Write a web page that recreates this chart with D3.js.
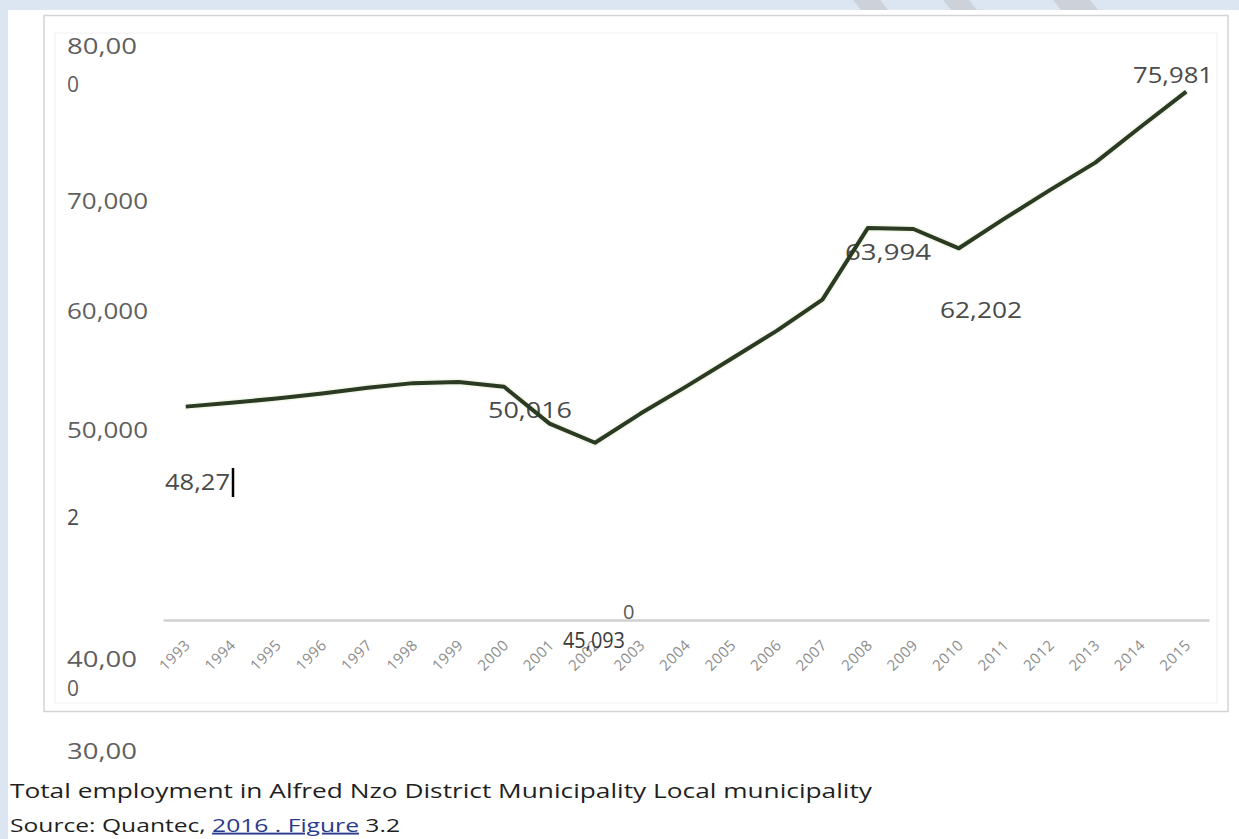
<!DOCTYPE html>
<html><head><meta charset="utf-8">
<script src="https://cdn.jsdelivr.net/npm/d3@7/dist/d3.min.js"></script>
<style>html,body{margin:0;padding:0;background:#dce6f2;}svg{display:block;}</style>
</head><body>
<svg id="chart" width="1239" height="839"></svg>
<script>
// ---------- data ----------
const years = [1993,1994,1995,1996,1997,1998,1999,2000,2001,2002,2003,2004,2005,2006,2007,2008,2009,2010,2011,2012,2013,2014,2015];
const employment = [48272,48620,48980,49420,49940,50340,50430,50016,46780,45093,47660,50030,52490,54960,57690,63994,63900,62202,64810,67320,69740,72900,75981];
const yTickValues = [80000,70000,60000,50000,40000,30000];
const labelledYears = [1993,2000,2002,2008,2010,2015];
const titleText = "Total employment in Alfred Nzo District Municipality Local municipality";
const sourcePlain = "Source: Quantec, ";
const sourceLink = "2016 . Figure";
const sourceTail = " 3.2";

// ---------- setup ----------
const svg = d3.select("#chart");
const W = 1239, H = 839;
const FONT = "'Open Sans', 'Segoe UI', sans-serif";
const fmt = d3.format(",");

// page background
svg.append("rect").attr("x",0).attr("y",0).attr("width",W).attr("height",H).attr("fill","#dce6f2");
// faint watermark stripes in the top band
const stripes = [[853,880],[943,969],[1053,1090]];
stripes.forEach(([a,b])=>{
  svg.append("polygon").attr("points",`${a},0 ${b},0 ${b+8},10 ${a+8},10`).attr("fill","#cdd2da");
});
svg.append("rect").attr("x",8).attr("y",10).attr("width",W-8).attr("height",H-10).attr("fill","#ffffff");

// chart frames
svg.append("rect").attr("x",44).attr("y",15.5).attr("width",1184).attr("height",696)
  .attr("fill","#ffffff").attr("stroke","#d4d4d4").attr("stroke-width",1.5);
svg.append("rect").attr("x",55).attr("y",33).attr("width",1162).attr("height",670)
  .attr("fill","none").attr("stroke","#f1f1f1").attr("stroke-width",1);

// scales
const x = d3.scalePoint().domain(years).range([163,1209]).padding(0.5);
const y = d3.scaleLinear().domain([29500,80000]).range([620,46]);

// category axis
const xAxis = d3.axisBottom(x).tickSize(0).tickFormat(d=>String(d));
const gx = svg.append("g").attr("transform",`translate(0,${y(29500)})`).call(xAxis);
gx.select(".domain").attr("stroke","#d0d0d0").attr("stroke-width",2.5);
gx.selectAll("text")
  .attr("font-family",FONT).attr("font-size",15).attr("fill","#8c8c8c")
  .attr("letter-spacing",0.5)
  .attr("text-anchor","end").attr("y",0).attr("dy",0)
  .attr("transform","translate(5,26) rotate(-45)");

// helper for stretched text
function txt(str, tx, cy, opts={}){
  const t = svg.append("text").attr("x",tx).attr("y",cy).attr("dy","0.35em")
    .attr("font-family",FONT).attr("font-size",opts.size||21)
    .attr("fill",opts.fill||"#5f5f5f").text(str);
  if(opts.len){ t.attr("textLength",opts.len).attr("lengthAdjust","spacingAndGlyphs"); }
  return t;
}

// value-axis tick labels (wrapped / displaced as in the scan)
const tickLayout = [
  {lines:[[67,47,70],[67,85]]},
  {lines:[[67,202,81]]},
  {lines:[[67,312,81]]},
  {lines:[[67,431,81]]},
  {lines:[[67,660,70],[67,689]]},
  {lines:[[67,752,70]]}
];
yTickValues.forEach((v,i)=>{
  const s = fmt(v);
  const L = tickLayout[i].lines;
  const parts = L.length===2 ? [s.slice(0,5), s.slice(5)] : (L[0][2]===70 ? [s.slice(0,5)] : [s]);
  parts.forEach((p,j)=>txt(p, L[j][0], L[j][1], {len:L[j][2]}));
});

// the line (soft halo)
const line = d3.line().x((d,i)=>x(years[i])).y(d=>y(d));
svg.append("path").datum(employment).attr("d",line)
  .attr("fill","none").attr("stroke","#e9f2dc").attr("stroke-width",7).attr("stroke-linejoin","round").attr("opacity",0.6);

// data labels (drawn before line so the line crosses them)
const dlLayout = {
  1993:{lines:[[165,483,65],[67,518]]},
  2000:{lines:[[488,411,84]]},
  2002:{lines:[[563,641,62]]},
  2008:{lines:[[845,253,86]]},
  2010:{lines:[[940,311,82]]},
  2015:{lines:[[1133,76,80]]}
};
labelledYears.forEach(yr=>{
  const v = employment[years.indexOf(yr)];
  const s = fmt(v);
  const L = dlLayout[yr].lines;
  const parts = L.length===2 ? [s.slice(0,5), s.slice(5)] : [s];
  parts.forEach((p,j)=>txt(p, L[j][0], L[j][1], {len:L[j][2], fill: yr===2002 ? "#3a3a3a" : "#4a4a4a"}));
});
// stray zero label sitting on the axis
txt("0", 623, 612, {fill:"#595959", size:20});
// text cursor next to the first label
svg.append("line").attr("x1",233).attr("x2",233).attr("y1",468).attr("y2",497)
  .attr("stroke","#000").attr("stroke-width",2.5);

svg.append("path").datum(employment).attr("d",line)
  .attr("fill","none").attr("stroke","#2b3a22").attr("stroke-width",4).attr("stroke-linejoin","round");

// caption
txt(titleText, 10, 791, {size:20, fill:"#1f1f1f", len:862});
const src = svg.append("text").attr("x",10).attr("y",825).attr("dy","0.35em")
  .attr("font-family",FONT).attr("font-size",19).attr("fill","#1f1f1f")
  .attr("textLength",390).attr("lengthAdjust","spacingAndGlyphs");
src.append("tspan").text(sourcePlain);
src.append("tspan").attr("fill","#2a3a8c").attr("text-decoration","underline").text(sourceLink);
src.append("tspan").text(sourceTail);
</script>
</body></html>
